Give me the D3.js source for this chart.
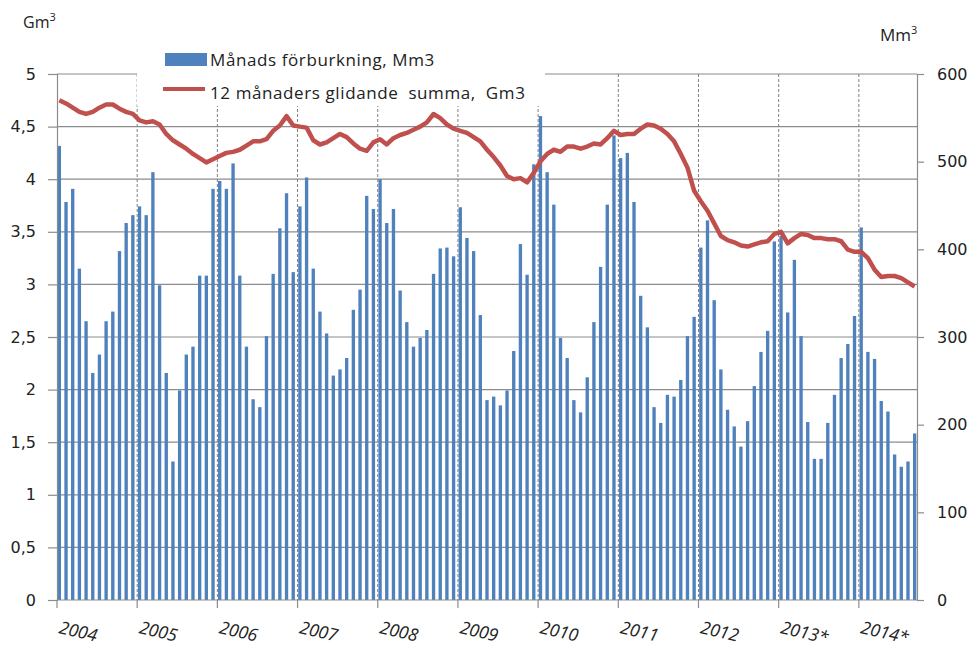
<!DOCTYPE html>
<html>
<head>
<meta charset="utf-8">
<script src="https://cdn.jsdelivr.net/npm/d3@7/dist/d3.min.js"></script>
<style>
  body { margin: 0; background: #fff; }
  svg { display: block; }
</style>
</head>
<body>
<div id="chart"></div>
<script>
// years on the x axis, and their printed labels
const years = [2004, 2005, 2006, 2007, 2008, 2009, 2010, 2011, 2012, 2013, 2014];
const yearLabels = ["2004", "2005", "2006", "2007", "2008", "2009", "2010", "2011", "2012", "2013*", "2014*"];

// monthly consumption, Mm3 (right axis)
const monthly2004 = [518, 454, 469, 378, 318, 259, 280, 318, 329, 398, 430, 439];
const monthly2005 = [449, 439, 488, 359, 259, 158, 239, 280, 289, 370, 370, 469];
const monthly2006 = [478, 469, 498, 370, 289, 229, 220, 301, 372, 424, 464, 374];
const monthly2007 = [449, 482, 378, 329, 304, 256, 263, 276, 331, 354, 461, 446];
const monthly2008 = [480, 430, 446, 353, 317, 289, 299, 308, 372, 401, 402, 392];
const monthly2009 = [448, 413, 398, 325, 228, 232, 222, 239, 284, 406, 371, 497];
const monthly2010 = [552, 488, 451, 299, 276, 228, 214, 254, 317, 380, 451, 530];
const monthly2011 = [504, 510, 454, 347, 311, 220, 202, 234, 232, 251, 301, 323];
const monthly2012 = [402, 433, 342, 263, 217, 198, 175, 204, 244, 283, 307, 409];
const monthly2013 = [415, 328, 388, 301, 203, 161, 161, 202, 234, 276, 292, 324];
const monthly2014 = [425, 283, 275, 227, 215, 166, 152, 158, 190];

// 12 month moving sum, Gm3 (left axis)
const rolling2004 = [4.75, 4.72, 4.68, 4.64, 4.62, 4.64, 4.68, 4.71, 4.71, 4.67, 4.64, 4.62];
const rolling2005 = [4.56, 4.54, 4.55, 4.52, 4.43, 4.37, 4.33, 4.29, 4.24, 4.20, 4.16, 4.19];
const rolling2006 = [4.22, 4.25, 4.26, 4.28, 4.32, 4.36, 4.36, 4.38, 4.46, 4.51, 4.60, 4.51];
const rolling2007 = [4.50, 4.49, 4.37, 4.33, 4.35, 4.39, 4.43, 4.40, 4.34, 4.29, 4.27, 4.35];
const rolling2008 = [4.38, 4.33, 4.39, 4.42, 4.44, 4.47, 4.50, 4.54, 4.62, 4.58, 4.52, 4.48];
const rolling2009 = [4.46, 4.44, 4.40, 4.36, 4.28, 4.21, 4.13, 4.03, 4.00, 4.01, 3.97, 4.06];
const rolling2010 = [4.17, 4.24, 4.28, 4.26, 4.31, 4.31, 4.29, 4.31, 4.34, 4.33, 4.39, 4.46];
const rolling2011 = [4.42, 4.43, 4.43, 4.48, 4.52, 4.51, 4.48, 4.43, 4.36, 4.24, 4.11, 3.89];
const rolling2012 = [3.79, 3.70, 3.58, 3.46, 3.42, 3.40, 3.37, 3.36, 3.38, 3.40, 3.41, 3.48];
const rolling2013 = [3.50, 3.39, 3.44, 3.48, 3.47, 3.44, 3.44, 3.43, 3.43, 3.41, 3.33, 3.31];
const rolling2014 = [3.31, 3.25, 3.14, 3.07, 3.08, 3.08, 3.06, 3.02, 2.98];

const legendLabels = ["Månads förburkning, Mm3", "12 månaders glidande  summa,  Gm3"];

const monthlyByYear = [monthly2004, monthly2005, monthly2006, monthly2007, monthly2008, monthly2009,
  monthly2010, monthly2011, monthly2012, monthly2013, monthly2014];
const rollingByYear = [rolling2004, rolling2005, rolling2006, rolling2007, rolling2008, rolling2009,
  rolling2010, rolling2011, rolling2012, rolling2013, rolling2014];

const months = [];
years.forEach((yr, yi) => {
  monthlyByYear[yi].forEach((v, m) => {
    months.push({ key: yr + "-" + m, year: yr, month: m, mm: v, gm: rollingByYear[yi][m] });
  });
});

const width = 972, height = 650;
const plotL = 57, plotR = 917, plotT = 74, plotB = 600;
const blue = "#4f81bd", red = "#c0504d", grid = "#8c8c8c";
const numFont = "'DejaVu Sans', sans-serif";
const txtFont = "'Open Sans', sans-serif";
const ink = "#222";

const svg = d3.select("#chart").append("svg")
  .attr("width", width).attr("height", height);

const x = d3.scaleBand()
  .domain(months.map(d => d.key))
  .range([plotL, plotR])
  .paddingInner(0.5)
  .paddingOuter(0.1);

const yL = d3.scaleLinear().domain([0, 5]).range([plotB, plotT]);
const yR = d3.scaleLinear().domain([0, 600]).range([plotB, plotT]);

const yearX = yr => x(yr + "-0") - x.step() * x.paddingOuter();

// horizontal gridlines
svg.append("g")
  .selectAll("line")
  .data(d3.range(0.5, 5.01, 0.5))
  .enter().append("line")
  .attr("x1", plotL).attr("x2", plotR)
  .attr("y1", d => yL(d)).attr("y2", d => yL(d))
  .attr("stroke", grid).attr("stroke-width", 1.2);

// dashed year separators
svg.append("g")
  .selectAll("line")
  .data(years.slice(1))
  .enter().append("line")
  .attr("x1", d => yearX(d)).attr("x2", d => yearX(d))
  .attr("y1", plotT).attr("y2", plotB)
  .attr("stroke", "#7f7f7f").attr("stroke-width", 1)
  .attr("stroke-dasharray", "3,2");

// bars
svg.append("g")
  .selectAll("rect")
  .data(months)
  .enter().append("rect")
  .attr("x", d => x(d.key))
  .attr("width", x.bandwidth())
  .attr("y", d => yR(d.mm))
  .attr("height", d => plotB - yR(d.mm))
  .attr("fill", blue);

// moving sum line
const line = d3.line()
  .x(d => x(d.key) + x.bandwidth() / 2)
  .y(d => yL(d.gm));

svg.append("path")
  .datum(months)
  .attr("d", line)
  .attr("fill", "none")
  .attr("stroke", red)
  .attr("stroke-width", 4.5)
  .attr("stroke-linejoin", "round");

// left axis
const axL = svg.append("g")
  .attr("transform", "translate(" + plotL + ",0)")
  .call(d3.axisLeft(yL)
    .tickValues(d3.range(0, 5.01, 0.5))
    .tickSize(9)
    .tickPadding(12)
    .tickFormat(d => String(d).replace(".", ",")));

// right axis
const axR = svg.append("g")
  .attr("transform", "translate(" + plotR + ",0)")
  .call(d3.axisRight(yR)
    .tickValues(d3.range(0, 601, 100))
    .tickSize(7)
    .tickPadding(13));

// bottom axis, ticks at the year boundaries
const axB = svg.append("g");
axB.append("line")
  .attr("x1", plotL).attr("x2", plotR)
  .attr("y1", plotB).attr("y2", plotB)
  .attr("stroke", grid).attr("stroke-width", 1.2);
axB.selectAll("line.tick")
  .data(years)
  .enter().append("line")
  .attr("class", "tick")
  .attr("x1", d => yearX(d)).attr("x2", d => yearX(d))
  .attr("y1", plotB).attr("y2", plotB + 8)
  .attr("stroke", grid).attr("stroke-width", 1.2);
axB.selectAll("text")
  .data(years)
  .enter().append("text")
  .attr("transform", d => "translate(" + (yearX(d) + 1) + "," + (plotB + 33) + ") rotate(13)")
  .attr("font-family", txtFont)
  .attr("font-style", "italic")
  .attr("font-size", 17.5)
  .attr("fill", ink)
  .text((d, i) => yearLabels[i]);

[axL, axR].forEach(ax => {
  ax.select(".domain").attr("stroke", grid).attr("stroke-width", 1.2);
  ax.selectAll(".tick line").attr("stroke", grid).attr("stroke-width", 1.2);
  ax.selectAll(".tick text")
    .attr("font-family", numFont)
    .attr("font-size", 16)
    .attr("fill", ink);
});

// axis units
svg.append("text")
  .attr("x", 23).attr("y", 28)
  .attr("font-family", txtFont).attr("font-size", 16).attr("fill", ink)
  .html("Gm<tspan dy='-7' font-size='11'>3</tspan>");
svg.append("text")
  .attr("x", 880).attr("y", 41)
  .attr("font-family", txtFont).attr("font-size", 17).attr("fill", ink)
  .html("Mm<tspan dy='-7' font-size='11'>3</tspan>");

// legend
const lg = svg.append("g");
lg.append("rect")
  .attr("x", 137).attr("y", 40).attr("width", 408).attr("height", 66)
  .attr("fill", "#fff");
lg.append("rect")
  .attr("x", 165).attr("y", 53).attr("width", 42).attr("height", 13)
  .attr("fill", blue);
lg.append("line")
  .attr("x1", 163).attr("x2", 205).attr("y1", 89).attr("y2", 89)
  .attr("stroke", red).attr("stroke-width", 4);
lg.selectAll("text")
  .data(legendLabels)
  .enter().append("text")
  .attr("x", 210)
  .attr("y", (d, i) => 66 + i * 33)
  .attr("font-family", txtFont)
  .attr("font-size", 17)
  .attr("letter-spacing", 0.6)
  .attr("xml:space", "preserve")
  .style("white-space", "pre")
  .attr("fill", ink)
  .text(d => d);
</script>
</body>
</html>
